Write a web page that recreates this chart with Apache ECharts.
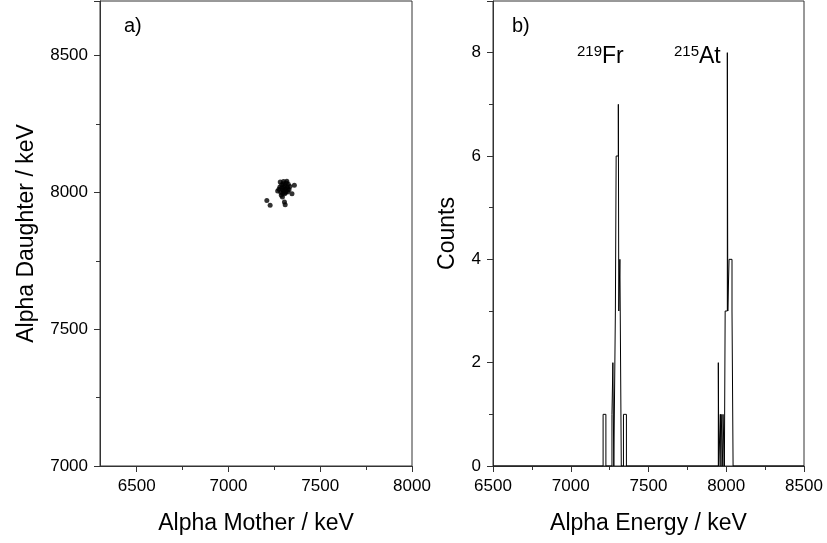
<!DOCTYPE html>
<html>
<head>
<meta charset="utf-8">
<script src="https://cdn.jsdelivr.net/npm/echarts@6/dist/echarts.min.js"></script>
<style>html,body{margin:0;padding:0;background:#fff}#c{width:827px;height:543px}</style>
</head>
<body>
<div id="c"></div>
<script>
// Panel a) scatter: [alpha mother keV, alpha daughter keV]
const scatterMother = [7209,7227,7294,7305,7309,7346,7359,7282,7318,7268,7275,7280,7285,7290,7295,7298,7300,7303,7306,7308,7312,7315,7320,7322,7326,7330,7335,7288,7296,7310,7300,7314,7292,7324];
const scatterDaughter = [7971,7953,7983,7965,7955,7995,8026,8038,8041,8005,8012,8020,8000,8028,8010,8032,8005,8018,7995,8025,8012,8035,8020,8002,8030,8010,8022,7990,7998,8000,8040,8004,8016,8014];

// Panel b) histogram as step edges: energy (keV) where count changes, and count from that edge
const histEnergy = [6500,7208,7226,7265,7271,7277,7287,7292,7306,7309,7316,7325,7339,7358,
                    7949,7952,7962,7966,7967,7978,7979,7988,7993,8007,8010,8018,8037,8044,8500];
const histCounts = [0,1,0,1,2,0,3,6,7,3,4,0,1,0,
                    2,0,1,0,1,0,1,0,3,8,3,4,3,0,0];

const xTicksA = [6500,7000,7500,8000];
const xMinorA = [6750,7250,7750];

const scatterData = scatterMother.map((m,i)=>[m, scatterDaughter[i]]);
const histData = histEnergy.map((e,i)=>[e, histCounts[i]]);

const axisColor = '#333';
const font = 'Liberation Sans, Arial, sans-serif';
const plain = v => String(v);
const lab = {color:'#000', fontSize:17, fontFamily:font, formatter:plain};
const nameStyle = {color:'#000', fontSize:23, fontFamily:font};

const chart = echarts.init(document.getElementById('c'), null, {renderer:'canvas'});
chart.setOption({
  animation:false,
  backgroundColor:'#fff',
  grid:[
    {left:100, right:415, top:1, bottom:77, show:true, borderColor:axisColor, borderWidth:1, backgroundColor:'transparent'},
    {left:493, right:23, top:1, bottom:77, show:true, borderColor:axisColor, borderWidth:1, backgroundColor:'transparent'}
  ],
  xAxis:[
    {type:'value', gridIndex:0, min:6300, max:8000, name:'Alpha Mother / keV', nameLocation:'middle', nameGap:46, nameTextStyle:nameStyle,
     axisLine:{show:true, onZero:false, lineStyle:{color:axisColor}},
     axisTick:{show:true, length:6, customValues:xTicksA, lineStyle:{color:axisColor}},
     axisLabel:Object.assign({customValues:xTicksA, margin:12}, lab),
     splitLine:{show:false}},
    {type:'value', gridIndex:0, min:6300, max:8000, position:'bottom', offset:0,
     axisLine:{show:false}, axisTick:{show:true, length:4, customValues:xMinorA, lineStyle:{color:axisColor}},
     axisLabel:{show:false, customValues:xMinorA}, splitLine:{show:false}},
    {type:'value', gridIndex:1, min:6500, max:8500, interval:500, name:'Alpha Energy / keV', nameLocation:'middle', nameGap:46, nameTextStyle:nameStyle,
     axisLine:{show:true, onZero:false, lineStyle:{color:axisColor}},
     axisTick:{show:true, length:6, lineStyle:{color:axisColor}},
     minorTick:{show:true, splitNumber:2, length:4, lineStyle:{color:axisColor}},
     axisLabel:Object.assign({margin:12}, lab), splitLine:{show:false}}
  ],
  yAxis:[
    {type:'value', gridIndex:0, min:7000, max:8700, interval:500, name:'Alpha Daughter / keV', nameLocation:'middle', nameGap:62, nameTextStyle:nameStyle,
     axisLine:{show:true, onZero:false, lineStyle:{color:axisColor}},
     axisTick:{show:true, length:6, lineStyle:{color:axisColor}},
     minorTick:{show:true, splitNumber:2, length:4, lineStyle:{color:axisColor}},
     axisLabel:Object.assign({margin:12, showMaxLabel:false}, lab), splitLine:{show:false}},
    {type:'value', gridIndex:1, min:0, max:9, interval:2, name:'Counts', nameLocation:'middle', nameGap:34, nameTextStyle:nameStyle,
     axisLine:{show:true, onZero:false, lineStyle:{color:axisColor}},
     axisTick:{show:true, length:6, lineStyle:{color:axisColor}},
     minorTick:{show:true, splitNumber:2, length:4, lineStyle:{color:axisColor}},
     axisLabel:Object.assign({margin:12, showMaxLabel:false}, lab), splitLine:{show:false}}
  ],
  series:[
    {type:'scatter', xAxisIndex:0, yAxisIndex:0, data:scatterData, symbol:'circle', symbolSize:5,
     itemStyle:{color:'#000'}},
    {type:'line', xAxisIndex:2, yAxisIndex:1, data:histData, step:'end', showSymbol:false, symbol:'none',
     lineStyle:{color:'#000', width:1}}
  ],
  graphic:[
    {type:'text', left:124, top:16, style:{text:'a)', fontSize:20, fontFamily:font, fill:'#000'}},
    {type:'text', left:512, top:16, style:{text:'b)', fontSize:20, fontFamily:font, fill:'#000'}},
    {type:'text', left:577, top:44, style:{text:'{s|219}{n|Fr}', rich:{s:{fontSize:15, fontFamily:font, fill:'#000', verticalAlign:'top', padding:[0,0,11,0]}, n:{fontSize:23, fontFamily:font, fill:'#000'}}}},
    {type:'text', left:674, top:44, style:{text:'{s|215}{n|At}', rich:{s:{fontSize:15, fontFamily:font, fill:'#000', verticalAlign:'top', padding:[0,0,11,0]}, n:{fontSize:23, fontFamily:font, fill:'#000'}}}}
  ]
});
</script>
</body>
</html>
